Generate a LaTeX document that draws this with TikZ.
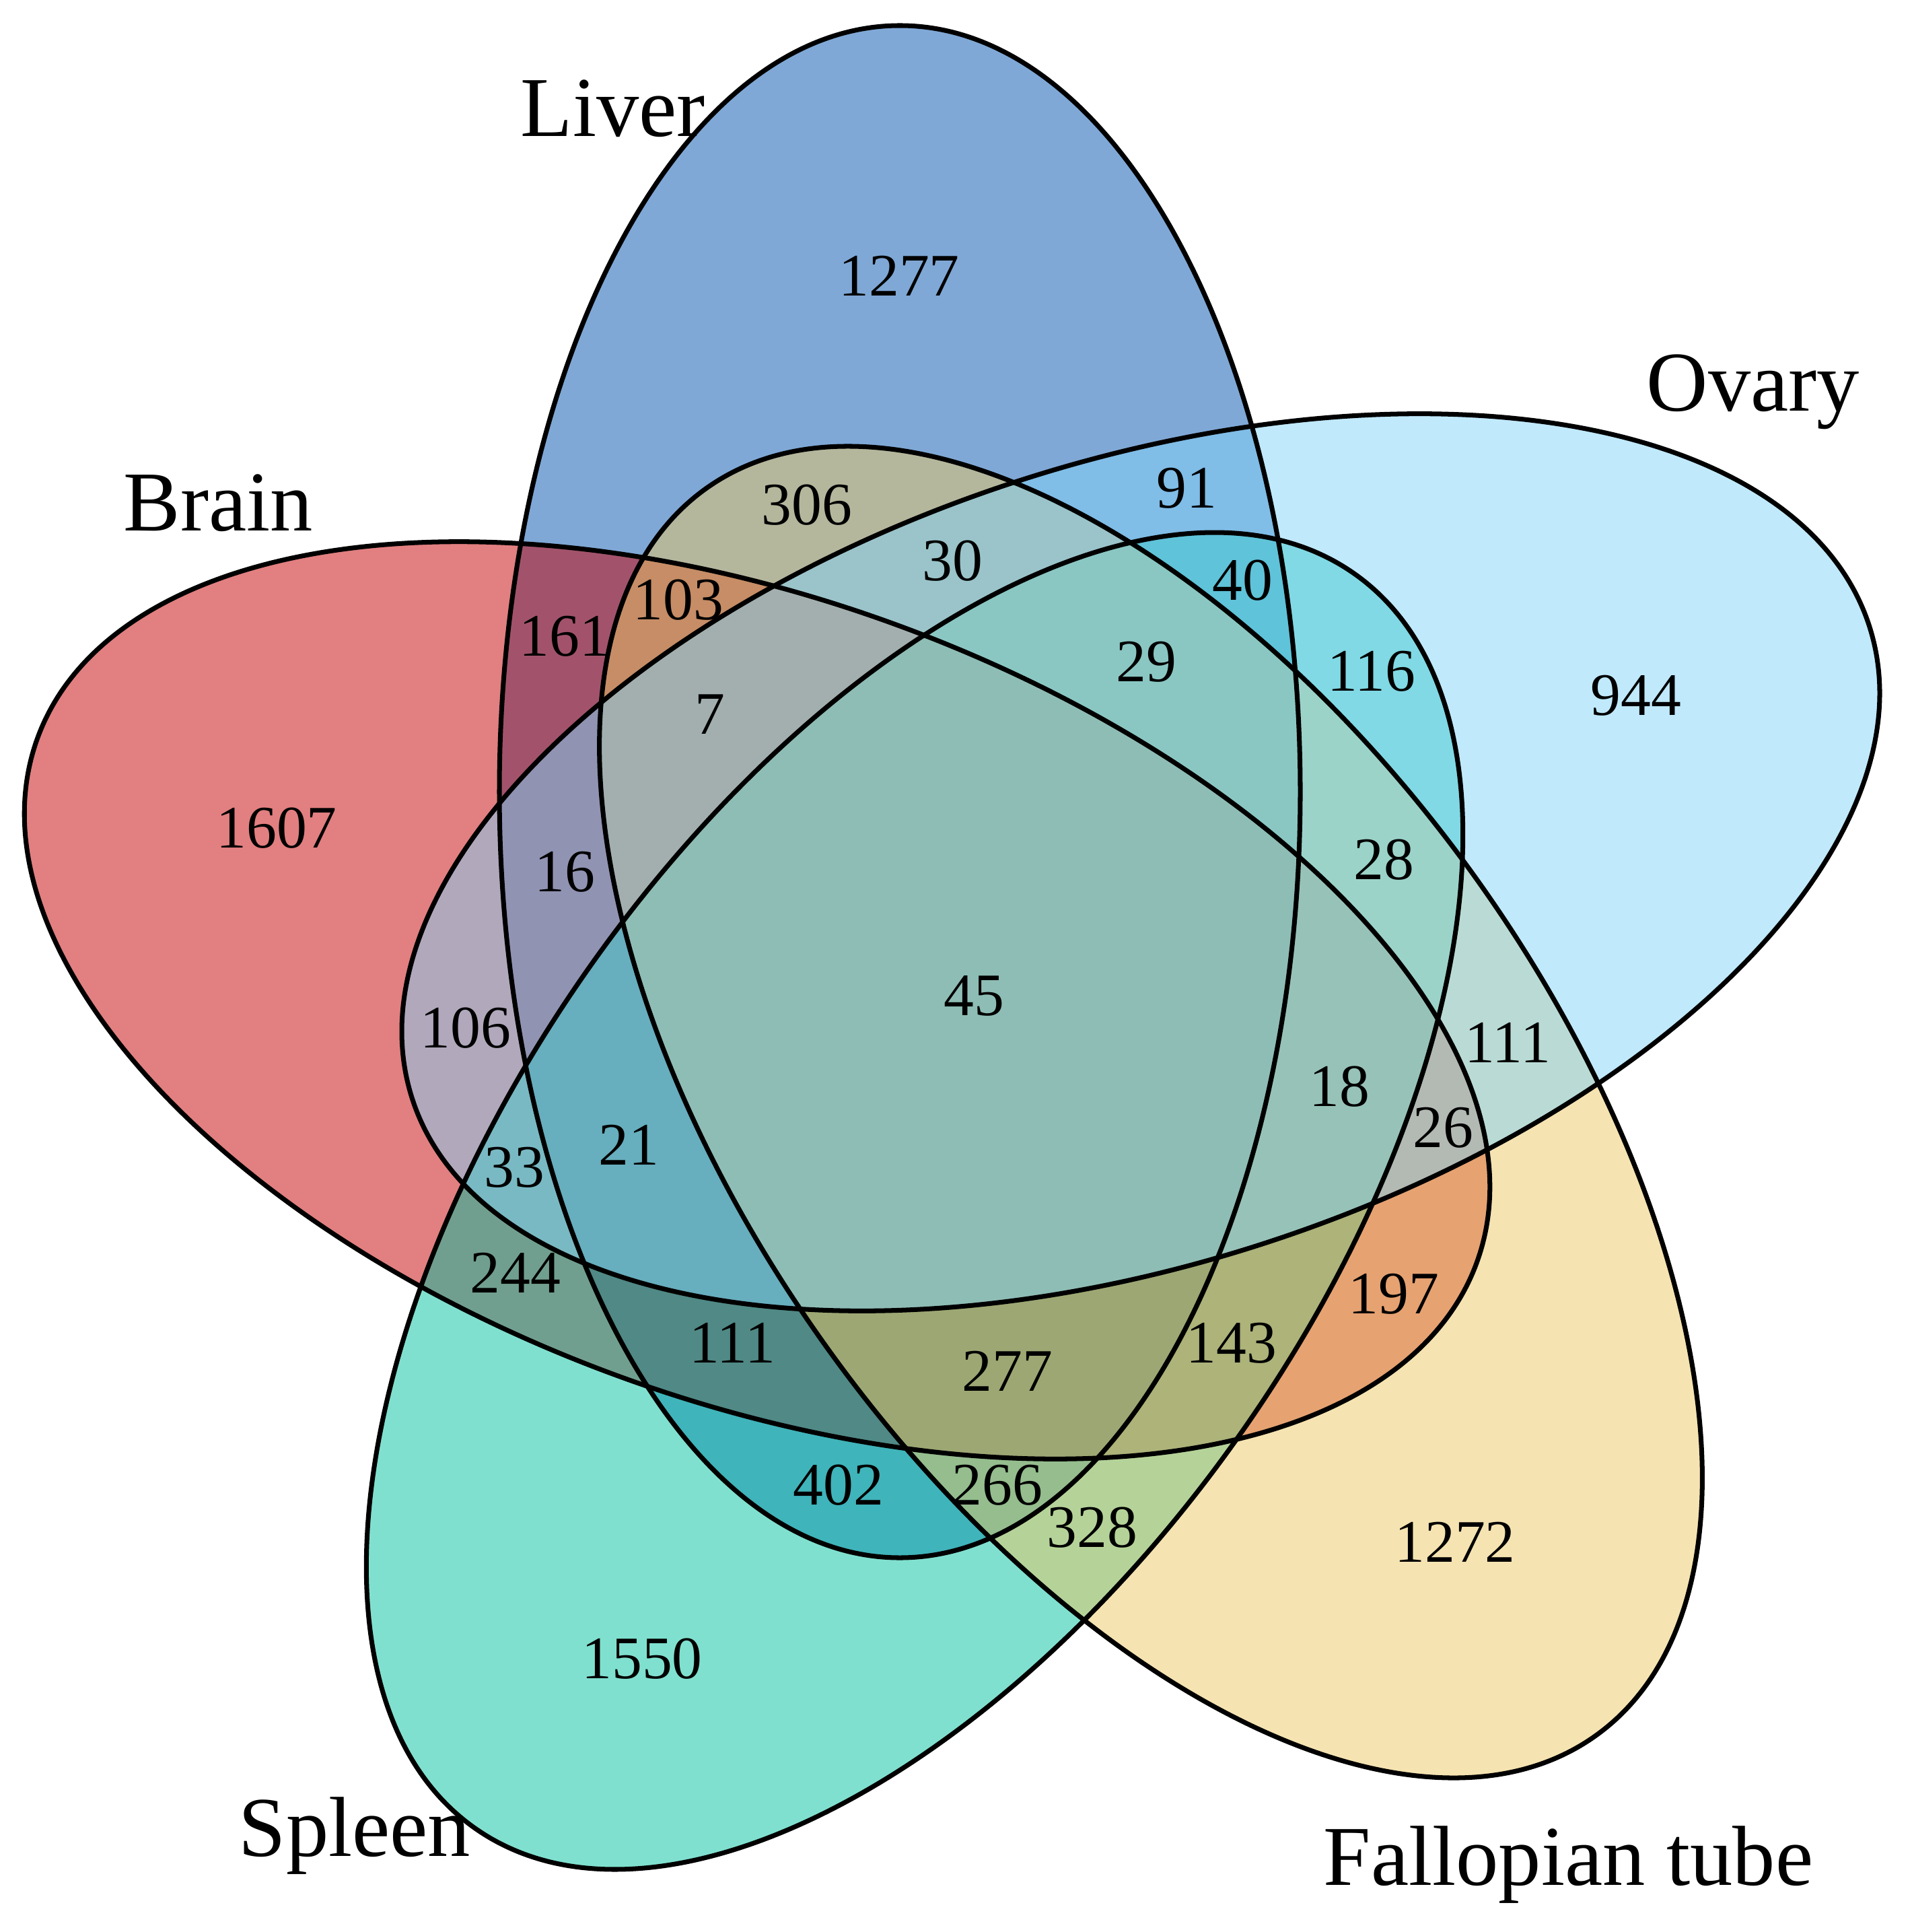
\documentclass[tikz,border=0pt]{standalone}
\usepackage{fontspec}
\setmainfont{Liberation Serif}
\usepackage{xcolor}
\definecolor{liverblue}{RGB}{0,81,173}
\definecolor{brainred}{RGB}{197,0,2}
\definecolor{spleengreen}{RGB}{1,193,159}
\definecolor{tubeyellow}{RGB}{235,199,99}
\definecolor{ovaryblue}{RGB}{129,211,249}

\tikzset{
    setfill/.style={fill opacity=0.5},
    setline/.style={line width=2pt},
    count/.style={font=\fontsize{25.5}{30}\selectfont, inner sep=0pt},
    setlabel/.style={font=\fontsize{36}{43}\selectfont, inner sep=0pt, anchor=base west}
}

\begin{document}
\begin{tikzpicture}
    \useasboundingbox (0,0) rectangle (28.4,-28.7);

    % fills, in drawing order
    \fill[liverblue, setfill, rotate around={90:(13.37,-11.76)}] (13.37,-11.76) ellipse (11.38 and 5.95);
    \fill[brainred, setfill, rotate around={160:(11.25,-14.86)}] (11.25,-14.86) ellipse (11.38 and 5.95);
    \fill[spleengreen, setfill, rotate around={235:(13.59,-17.84)}] (13.59,-17.84) ellipse (11.38 and 5.95);
    \fill[tubeyellow, setfill, rotate around={305.5:(17.10,-16.52)}] (17.10,-16.52) ellipse (11.38 and 5.95);
    \fill[ovaryblue, setfill, rotate around={18:(16.95,-12.81)}] (16.95,-12.81) ellipse (11.38 and 5.95);

    % outlines
    \draw[setline, rotate around={90:(13.37,-11.76)}] (13.37,-11.76) ellipse (11.38 and 5.95);
    \draw[setline, rotate around={160:(11.25,-14.86)}] (11.25,-14.86) ellipse (11.38 and 5.95);
    \draw[setline, rotate around={235:(13.59,-17.84)}] (13.59,-17.84) ellipse (11.38 and 5.95);
    \draw[setline, rotate around={305.5:(17.10,-16.52)}] (17.10,-16.52) ellipse (11.38 and 5.95);
    \draw[setline, rotate around={18:(16.95,-12.81)}] (16.95,-12.81) ellipse (11.38 and 5.95);

    % set names
    \node[setlabel] (liver) at (7.73,-2.03) {Liver};
    \node[setlabel] (brain) at (1.83,-7.88) {Brain};
    \node[setlabel] (ovary) at (24.46,-6.11) {Ovary};
    \node[setlabel] (spleen) at (3.54,-27.57) {Spleen};
    \node[setlabel] (tube) at (19.66,-28.00) {Fallopian tube};

    % counts
    \node[count] (n1277) at (13.36,-4.10) {1277};
    \node[count] (n306) at (11.99,-7.50) {306};
    \node[count] (n91) at (17.63,-7.25) {91};
    \node[count] (n30) at (14.15,-8.33) {30};
    \node[count] (n103) at (10.08,-8.91) {103};
    \node[count] (n40) at (18.46,-8.62) {40};
    \node[count] (n161) at (8.39,-9.45) {161};
    \node[count] (n29) at (17.03,-9.83) {29};
    \node[count] (n116) at (20.38,-9.97) {116};
    \node[count] (n944) at (24.31,-10.33) {944};
    \node[count] (n7) at (10.55,-10.61) {7};
    \node[count] (n1607) at (4.11,-12.30) {1607};
    \node[count] (n28) at (20.56,-12.77) {28};
    \node[count] (n16) at (8.39,-12.95) {16};
    \node[count] (n106) at (6.92,-15.27) {106};
    \node[count] (n45) at (14.47,-14.79) {45};
    \node[count] (n111a) at (22.40,-15.49) {111};
    \node[count] (n18) at (19.90,-16.14) {18};
    \node[count] (n26) at (21.44,-16.75) {26};
    \node[count] (n21) at (9.34,-17.01) {21};
    \node[count] (n33) at (7.64,-17.34) {33};
    \node[count] (n244) at (7.66,-18.91) {244};
    \node[count] (n197) at (20.71,-19.22) {197};
    \node[count] (n143) at (18.30,-19.95) {143};
    \node[count] (n111b) at (10.88,-19.95) {111};
    \node[count] (n277) at (14.97,-20.37) {277};
    \node[count] (n402) at (12.46,-22.06) {402};
    \node[count] (n266) at (14.82,-22.06) {266};
    \node[count] (n328) at (16.23,-22.69) {328};
    \node[count] (n1272) at (21.62,-22.91) {1272};
    \node[count] (n1550) at (9.54,-24.64) {1550};
\end{tikzpicture}
\end{document}
